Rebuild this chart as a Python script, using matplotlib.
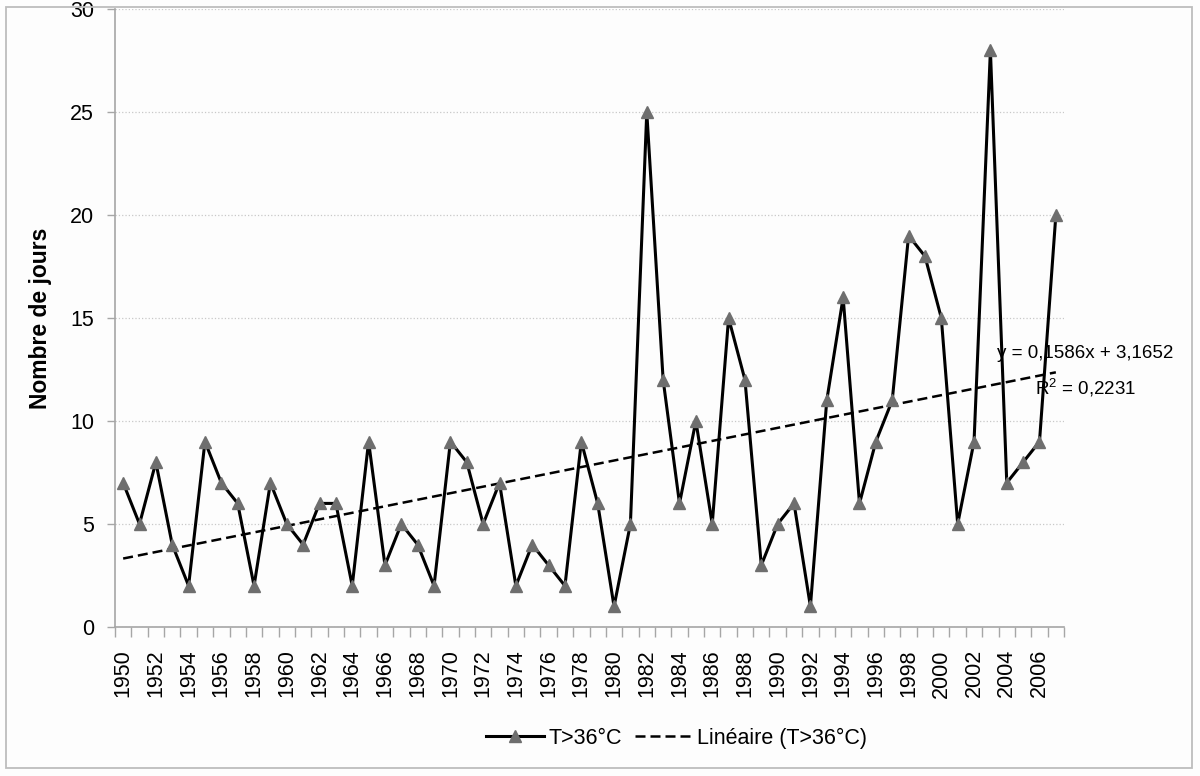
import numpy as np
import matplotlib
matplotlib.use("Agg")
import matplotlib.pyplot as plt
from matplotlib.patches import Rectangle

plt.rcParams['font.family'] = ['Liberation Sans', 'DejaVu Sans']
plt.rcParams['mathtext.default'] = 'regular'

# Nombre de jours avec T>36°C, 1950-2007
annees = list(range(1950, 2008))
jours = [7, 5, 8, 4, 2, 9, 7, 6, 2, 7,
         5, 4, 6, 6, 2, 9, 3, 5, 4, 2,
         9, 8, 5, 7, 2, 4, 3, 2, 9, 6,
         1, 5, 25, 12, 6, 10, 5, 15, 12, 3,
         5, 6, 1, 11, 16, 6, 9, 11, 19, 18,
         15, 5, 9, 28, 7, 8, 9, 20]

# courbe de tendance (equation affichee par le tableur, x = 1..58)
pente = 0.1586
ordonnee = 3.1652
r2 = 0.2231

idx = np.arange(1, len(annees) + 1)
tendance = pente * idx + ordonnee

fig = plt.figure(figsize=(12, 7.76), dpi=100)
fig.patch.set_facecolor('#fdfdfd')
fig.patches.append(Rectangle((0.005, 0.0103), 0.988, 0.9807, transform=fig.transFigure,
                             fill=False, edgecolor='#bdbdbd', lw=1.3))

ax = fig.add_axes([0.0958, 0.192, 0.7909, 0.7964])
ax.set_facecolor('#fdfdfd')

ax.plot(annees, jours, color='black', lw=2.2, marker='^', markersize=9,
        markerfacecolor='#6e6e6e', markeredgecolor='#6e6e6e', label='T>36°C', zorder=3)
ax.plot(annees, tendance, color='black', lw=1.8, dashes=(4, 2),
        label='Linéaire (T>36°C)', zorder=2)

ax.set_xlim(1949.5, 2007.5)
ax.set_ylim(0, 30)
ax.set_yticks(range(0, 31, 5))
ax.set_xticks(annees[::2])
ax.set_xticks(np.arange(1949.5, 2008, 1), minor=True)
ax.set_xticklabels([str(a) for a in annees[::2]], rotation=90)

ax.tick_params(axis='x', which='major', length=0, pad=16, labelsize=15.5)
ax.tick_params(axis='x', which='minor', length=7, width=1, color='#a6a6a6', direction='out')
ax.tick_params(axis='y', length=6, width=1, color='#a6a6a6', pad=9, labelsize=15.5)

for s in ['top', 'right']:
    ax.spines[s].set_visible(False)
for s in ['left', 'bottom']:
    ax.spines[s].set_color('#a6a6a6')
    ax.spines[s].set_linewidth(1.2)

ax.grid(axis='y', color='#c8c8c8', linestyle=':', lw=0.9)
ax.set_axisbelow(True)

ax.set_ylabel('Nombre de jours', fontsize=16.5, fontweight='bold', labelpad=13)

ax.text(2008.8, 13.3, 'y = 0,1586x + 3,1652', fontsize=13.5, ha='center', va='center',
        clip_on=False)
ax.text(2008.8, 11.6, 'R$^2$ = 0,2231', fontsize=13.5, ha='center', va='center',
        clip_on=False)

fig.legend(loc='center', bbox_to_anchor=(0.564, 0.049), ncol=2, frameon=False,
           fontsize=15.5, handlelength=2.7, handletextpad=0.2, columnspacing=0.6)

fig.savefig('out.png', dpi=100, facecolor=fig.get_facecolor())
